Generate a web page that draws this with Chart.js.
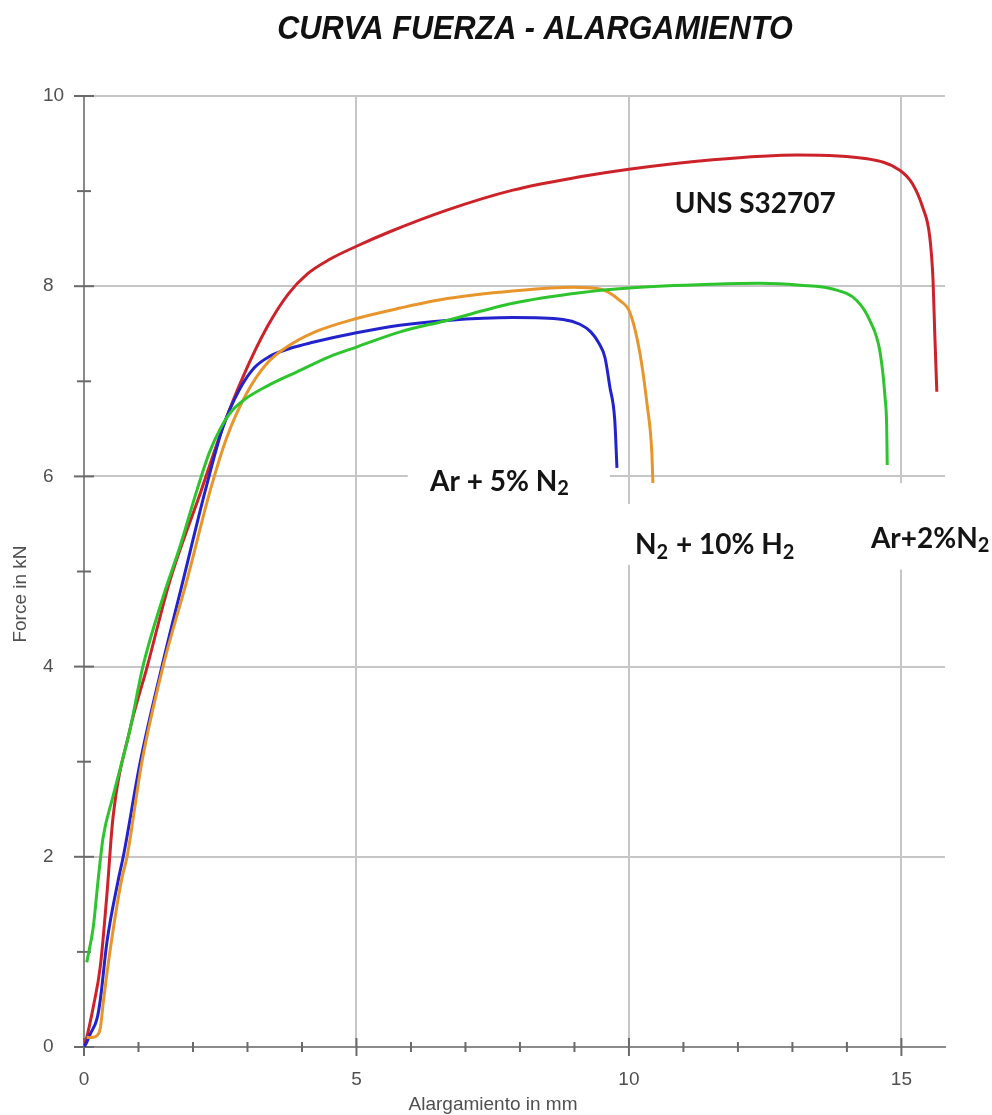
<!DOCTYPE html>
<html lang="es">
<head>
<meta charset="utf-8">
<title>Curva fuerza - alargamiento</title>
<script src="https://cdn.jsdelivr.net/npm/chart.js@4/dist/chart.umd.min.js"></script>
<style>
  html, body { margin: 0; padding: 0; background: #fff; }
  #wrap { width: 992px; height: 1115px; }
</style>
</head>
<body>
<div id="wrap"><canvas id="chart" width="992" height="1115"></canvas></div>
<script>
/* ── Data (x = mm, y = kN) ── */
const xTicks = [0, 1, 2, 3, 4, 5, 6, 7, 8, 9, 10, 11, 12, 13, 14, 15];
const yTicks = [0, 1, 2, 3, 4, 5, 6, 7, 8, 9, 10];

const unsX = [0, 0.05, 0.17, 0.3, 0.42, 0.53, 0.84, 1.16, 1.58, 2.15, 2.55, 2.92, 3.36, 3.75, 4.1, 4.5, 5.0, 5.6, 6.66, 7.87, 9.1, 10.0, 11.54, 13.1, 14.37, 14.97, 15.2, 15.39, 15.52, 15.58, 15.61, 15.65];
const unsY = [0, 0.1, 0.42, 0.85, 1.6, 2.4, 3.33, 4.0, 4.91, 5.85, 6.52, 7.05, 7.57, 7.92, 8.13, 8.28, 8.42, 8.57, 8.8, 9.01, 9.15, 9.23, 9.33, 9.38, 9.34, 9.22, 9.08, 8.83, 8.52, 8.07, 7.54, 6.89];

const ar5X = [0, 0.05, 0.11, 0.24, 0.3, 0.42, 0.63, 0.72, 1.03, 1.43, 1.82, 2.23, 2.55, 2.86, 3.12, 3.4, 3.8, 4.2, 5.0, 5.8, 6.66, 7.87, 8.79, 9.1, 9.3, 9.45, 9.56, 9.65, 9.74, 9.78];
const ar5Y = [0, 0.05, 0.13, 0.3, 0.5, 1.1, 1.76, 2.0, 2.99, 4.0, 4.91, 5.86, 6.52, 6.92, 7.14, 7.26, 7.35, 7.41, 7.51, 7.59, 7.64, 7.67, 7.65, 7.6, 7.52, 7.4, 7.25, 6.94, 6.59, 6.09];

const n2h2X = [0.05, 0.15, 0.24, 0.3, 0.35, 0.48, 0.69, 0.79, 1.06, 1.45, 1.89, 2.32, 2.62, 2.99, 3.36, 3.72, 4.2, 5.0, 5.8, 6.66, 7.87, 8.97, 9.47, 9.83, 10.02, 10.2, 10.33, 10.42, 10.44];
const n2h2Y = [0.1, 0.1, 0.12, 0.2, 0.45, 1.02, 1.76, 2.0, 2.99, 4.0, 4.91, 5.86, 6.41, 6.88, 7.19, 7.36, 7.51, 7.66, 7.77, 7.87, 7.95, 7.99, 7.97, 7.85, 7.72, 7.3, 6.77, 6.25, 5.93];

const ar2X = [0.05, 0.17, 0.26, 0.35, 0.53, 0.84, 1.08, 1.45, 1.76, 2.07, 2.3, 2.5, 2.7, 2.95, 3.36, 3.91, 4.51, 5.0, 5.8, 6.66, 7.87, 9.1, 10.0, 11.54, 12.4, 13.14, 13.74, 14.18, 14.42, 14.61, 14.7, 14.73, 14.74];
const ar2Y = [0.89, 1.26, 1.76, 2.2, 2.63, 3.33, 4.0, 4.73, 5.26, 5.85, 6.25, 6.5, 6.68, 6.81, 6.95, 7.1, 7.26, 7.36, 7.52, 7.64, 7.82, 7.93, 7.98, 8.02, 8.03, 8.01, 7.97, 7.85, 7.64, 7.3, 6.83, 6.52, 6.12];

/* ── Styling ── */
const gridColor = '#c6c6c6';
const axisColor = '#8a8a8a';
const tickColor = '#6a6a6a';
const textColor = '#505050';
const axisFont = { family: '"Liberation Sans", Arial, sans-serif', size: 19 };

const zip = (xs, ys) => xs.map((x, i) => ({ x, y: ys[i] }));

// index 0 is painted last (on top)
const series = [
  { label: 'Ar+2%N2', data: zip(ar2X, ar2Y), color: '#2ec42e' },
  { label: 'N2 + 10% H2', data: zip(n2h2X, n2h2Y), color: '#e8952c' },
  { label: 'Ar + 5% N2', data: zip(ar5X, ar5Y), color: '#2323cc' },
  { label: 'UNS S32707', data: zip(unsX, unsY), color: '#cc2229' }
];

/* ── In-plot notes; {2} = subscript ── */
const notes = [
  { text: 'UNS S32707', x: 10.84, y: 8.77 },
  { text: 'Ar + 5% N{2}', x: 6.35, y: 5.85, box: [5.94, 9.65, 6.19, 5.75] },
  { text: 'N{2} + 10% H{2}', x: 10.11, y: 5.18, box: [9.74, 13.41, 5.71, 5.07] },
  { text: 'Ar+2%N{2}', x: 14.44, y: 5.25, box: [14.24, 16.7, 5.93, 5.02] }
];

function drawRich(ctx, str, x, y, size) {
  str.split(/(\{\d\})/).filter(Boolean).forEach(p => {
    const sub = p.charAt(0) === '{';
    const t = sub ? p.slice(1, -1) : p;
    ctx.font = `bold ${sub ? Math.round(size * 0.72) : size}px Lato, "Open Sans", sans-serif`;
    ctx.fillText(t, x, y + (sub ? size * 0.17 : 0));
    x += ctx.measureText(t).width + (sub ? 1 : 0);
  });
}

const decor = {
  id: 'decor',
  beforeDatasetsDraw(chart) {
    const { ctx, scales: { x: xs, y: ys } } = chart;
    ctx.save();
    // tick marks straddling both axes
    ctx.strokeStyle = tickColor;
    ctx.lineWidth = 2;
    ys.ticks.forEach(t => {
      const p = ys.getPixelForValue(t.value);
      const h = t.value % 2 === 0 ? 10 : 7;
      ctx.beginPath(); ctx.moveTo(xs.left - h, p); ctx.lineTo(xs.left + h, p); ctx.stroke();
    });
    xs.ticks.forEach(t => {
      const p = xs.getPixelForValue(t.value);
      const h = t.value % 5 === 0 ? 9 : 5;
      ctx.beginPath(); ctx.moveTo(p, ys.bottom - h); ctx.lineTo(p, ys.bottom + h); ctx.stroke();
    });
    // white boxes behind the notes hide the grid
    ctx.fillStyle = '#fff';
    notes.filter(n => n.box).forEach(n => {
      const [x0, x1, y0, y1] = n.box;
      const l = xs.getPixelForValue(x0), r = xs.getPixelForValue(x1);
      const t = ys.getPixelForValue(y0), b = ys.getPixelForValue(y1);
      ctx.fillRect(l, t, r - l, b - t);
    });
    ctx.fillStyle = '#141414';
    ctx.textBaseline = 'alphabetic';
    ctx.textAlign = 'left';
    notes.forEach(n => drawRich(ctx, n.text, xs.getPixelForValue(n.x), ys.getPixelForValue(n.y), 28));
    ctx.restore();
  },
  afterDraw(chart) {
    const { ctx } = chart;
    ctx.save();
    // title
    ctx.fillStyle = '#111';
    ctx.textAlign = 'center';
    ctx.textBaseline = 'alphabetic';
    ctx.translate(535, 39);
    ctx.scale(0.9, 1);
    ctx.font = 'italic bold 34px "Liberation Sans", Arial, sans-serif';
    ctx.fillText('CURVA FUERZA - ALARGAMIENTO', 0, 0);
    ctx.restore();
    // axis titles
    ctx.save();
    ctx.fillStyle = textColor;
    ctx.font = `${axisFont.size}px ${axisFont.family}`;
    ctx.textAlign = 'center';
    ctx.textBaseline = 'middle';
    ctx.fillText('Alargamiento in mm', 493, 1105);
    ctx.translate(21, 594);
    ctx.rotate(-Math.PI / 2);
    ctx.fillText('Force in kN', 0, 0);
    ctx.restore();
  }
};

new Chart(document.getElementById('chart'), {
  type: 'scatter',
  data: {
    datasets: series.map(s => ({
      label: s.label, data: s.data, showLine: true,
      borderColor: s.color, backgroundColor: s.color,
      borderWidth: 3, pointRadius: 0, cubicInterpolationMode: 'monotone'
    }))
  },
  options: {
    responsive: false,
    animation: false,
    devicePixelRatio: 1,
    layout: { padding: { left: 43, right: 47, top: 96, bottom: 0 } },
    plugins: { legend: { display: false }, tooltip: { enabled: false }, title: { display: false } },
    scales: {
      x: {
        type: 'linear', min: 0, max: 15.8,
        afterBuildTicks: s => { s.ticks = xTicks.map(v => ({ value: v })); },
        afterFit: s => { s.height = 68; },
        ticks: {
          autoSkip: false, maxRotation: 0, padding: 21, color: textColor, font: axisFont,
          callback: v => (v % 5 === 0 ? v : '')
        },
        grid: {
          color: c => (c.tick && c.tick.value % 5 === 0 && c.tick.value > 0 ? gridColor : 'rgba(0,0,0,0)'),
          lineWidth: 2, drawTicks: false
        },
        border: { color: axisColor, width: 2 }
      },
      y: {
        type: 'linear', min: 0, max: 10,
        afterBuildTicks: s => { s.ticks = yTicks.map(v => ({ value: v })); },
        afterFit: s => { s.width = 41; },
        ticks: {
          autoSkip: false, crossAlign: 'far', padding: 12, color: textColor, font: axisFont,
          callback: v => (v % 2 === 0 ? v : '')
        },
        grid: {
          color: c => (c.tick && c.tick.value % 2 === 0 && c.tick.value > 0 ? gridColor : 'rgba(0,0,0,0)'),
          lineWidth: 2, drawTicks: false
        },
        border: { color: axisColor, width: 2 }
      }
    }
  },
  plugins: [decor]
});
</script>
</body>
</html>
